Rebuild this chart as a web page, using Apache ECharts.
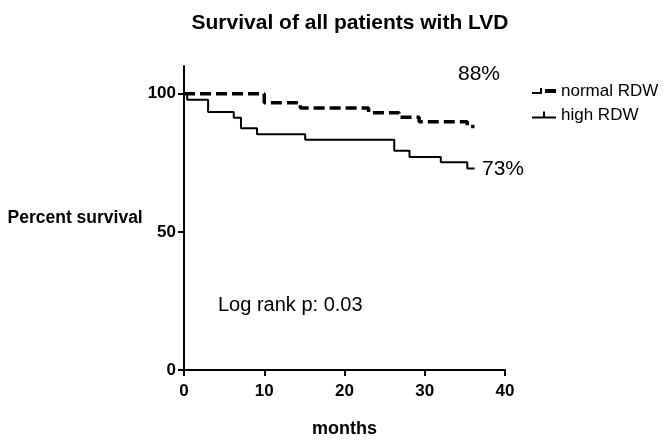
<!DOCTYPE html>
<html>
<head>
<meta charset="utf-8">
<script src="https://cdn.jsdelivr.net/npm/echarts@6/dist/echarts.min.js"></script>
<style>html,body{margin:0;padding:0;background:#fff}#c{width:663px;height:441px}</style>
</head>
<body>
<div id="c"></div>
<script>
var FONT = '"Liberation Sans", Arial, sans-serif';
// Kaplan-Meier steps (months, percent survival)
var normalTimes = [0, 10, 14.5, 23, 26.8, 29.3, 35.3, 36.2];
var normalSurv  = [100, 96.7, 94.8, 93.1, 91.5, 89.8, 88.1, 88.1];
var highTimes = [0, 0.4, 3.0, 6.2, 7.1, 9.1, 15.1, 26.2, 28.1, 32.0, 35.3, 36.2];
var highSurv  = [100, 97.8, 93.4, 91.3, 87.5, 85.3, 83.3, 79.3, 77.1, 75.2, 72.9, 72.9];
var xTicks = [0, 10, 20, 30, 40];
var yTicks = [0, 50, 100];
var seriesNames = ['normal RDW', 'high RDW'];
var endLabels = ['88%', '73%'];

function pairs(t, s) { return t.map(function (v, i) { return [v, s[i]]; }); }

var chart = echarts.init(document.getElementById('c'));
chart.setOption({
  animation: false,
  title: {
    text: 'Survival of all patients with LVD',
    left: 345, top: 8, textAlign: 'center',
    textStyle: { fontFamily: FONT, fontWeight: 'bold', fontSize: 21, color: '#000' }
  },
  legend: {
    data: [
      { name: seriesNames[0], icon: 'path://M0,6 H8 V2 H10 V8 H0 Z M13,3 H24 V7 H13 Z' },
      { name: seriesNames[1], icon: 'path://M0,7 H11 V2 H13 V7 H24 V9 H0 Z' }
    ],
    left: 527, top: 77, orient: 'vertical', itemGap: 6,
    itemWidth: 24, itemHeight: 10,
    textStyle: { fontFamily: FONT, fontSize: 17, color: '#000', lineHeight: 18 },
    itemStyle: { color: '#000', borderWidth: 0 }
  },
  grid: { left: 184, right: 158, top: 66, bottom: 71, outerBoundsMode: 'none' },
  xAxis: {
    type: 'value', min: 0, max: 40, interval: 10,
    name: 'months', nameLocation: 'middle', nameGap: 50,
    nameTextStyle: { fontFamily: FONT, fontWeight: 'bold', fontSize: 18, color: '#000' },
    axisLine: { show: true, lineStyle: { color: '#000', width: 2 } },
    axisTick: { show: true, length: 6, lineStyle: { color: '#000', width: 2 }, customValues: xTicks },
    axisLabel: { fontFamily: FONT, fontWeight: 'bold', fontSize: 17, color: '#000', margin: 13, customValues: xTicks },
    splitLine: { show: false }
  },
  yAxis: {
    type: 'value', min: 0, max: 110,
    name: 'Percent survival', nameLocation: 'middle', nameRotate: 0, nameGap: 39,
    nameTextStyle: { fontFamily: FONT, fontWeight: 'bold', fontSize: 17.5, color: '#000', align: 'right' },
    axisLine: { show: true, lineStyle: { color: '#000', width: 2 } },
    axisTick: { show: true, length: 6, lineStyle: { color: '#000', width: 2 }, customValues: yTicks },
    axisLabel: { fontFamily: FONT, fontWeight: 'bold', fontSize: 17, color: '#000', margin: 8, customValues: yTicks },
    splitLine: { show: false }
  },
  series: [
    {
      name: seriesNames[0], type: 'line', step: 'end', showSymbol: false, symbol: 'none',
      data: pairs(normalTimes, normalSurv),
      lineStyle: { color: '#000', width: 3.5, type: [11, 5] },
      itemStyle: { color: '#000' }
    },
    {
      name: seriesNames[1], type: 'line', step: 'end', showSymbol: false, symbol: 'none',
      data: pairs(highTimes, highSurv),
      lineStyle: { color: '#000', width: 2 },
      itemStyle: { color: '#000' }
    }
  ],
  graphic: [
    { type: 'text', left: 458, top: 64, style: { text: endLabels[0], fontFamily: FONT, fontSize: 21, fill: '#000' } },
    { type: 'text', left: 482, top: 159, style: { text: endLabels[1], fontFamily: FONT, fontSize: 21, fill: '#000' } },
    { type: 'text', left: 218, top: 295, style: { text: 'Log rank p: 0.03', fontFamily: FONT, fontSize: 20, fill: '#000' } }
  ]
});
</script>
</body>
</html>
